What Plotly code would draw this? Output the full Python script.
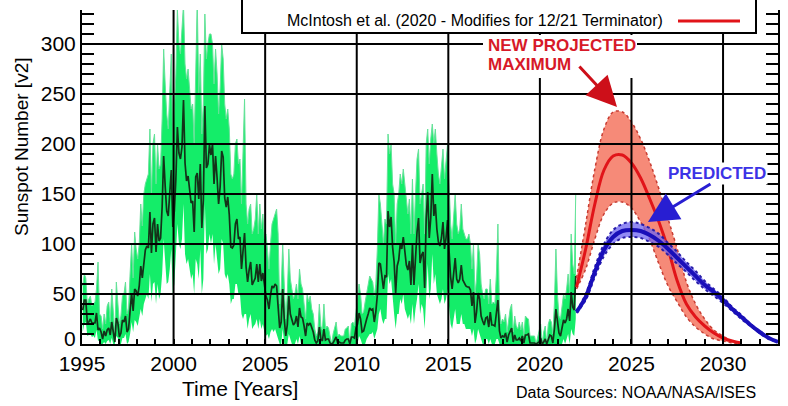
import plotly.graph_objects as go

# ---------------- figure geometry ----------------
W, H = 788, 406
ML, MR, MT, MB = 82, 10, 10, 62
PW, PH = W - ML - MR, H - MT - MB


def PX(x):
    return (x - ML) / PW


def PY(y):
    return (H - MB - y) / PH


# ---------------- data ----------------
start_year = 1995
x_ticks = [1995, 2000, 2005, 2010, 2015, 2020, 2025, 2030]
y_ticks = [0, 50, 100, 150, 200, 250, 300]

# monthly mean sunspot number (v2), Jan 1995 .. Dec 2021
monthly_mean = [
    34, 44, 44, 21, 22, 25, 21, 21, 21, 31, 14, 16,
    12, 5, 13, 8, 14, 16, 9, 22, 12, 2, 26, 21,
    7, 11, 24, 22, 28, 12, 15, 31, 51, 33, 55, 53,
    48, 58, 78, 66, 83, 94, 98, 96, 132, 91, 120, 126,
    92, 120, 103, 106, 137, 188, 158, 133, 128, 149, 174, 117,
    133, 165, 217, 191, 185, 197, 244, 181, 163, 168, 153, 141,
    143, 112, 167, 171, 145, 180, 116, 144, 238, 176, 180, 199,
    189, 200, 160, 188, 166, 140, 157, 193, 187, 146, 137, 147,
    129, 97, 96, 99, 120, 125, 105, 107, 75, 92, 111, 77,
    62, 74, 82, 59, 62, 66, 80, 62, 80, 63, 71, 59,
    48, 44, 35, 49, 58, 56, 60, 58, 40, 16, 22, 55,
    25, 8, 19, 48, 30, 25, 19, 21, 28, 17, 36, 27,
    26, 18, 8, 21, 19, 21, 16, 12, 4, 1, 3, 17,
    5, 3, 15, 4, 5, 5, 1, 0, 1, 5, 7, 1,
    2, 1, 1, 1, 4, 5, 5, 0, 7, 7, 6, 16,
    20, 31, 25, 12, 13, 20, 25, 30, 36, 34, 35, 22,
    32, 49, 81, 80, 66, 55, 68, 67, 133, 117, 127, 97,
    82, 51, 78, 84, 100, 95, 107, 92, 79, 74, 83, 59,
    99, 59, 86, 112, 126, 81, 89, 92, 56, 125, 152, 106,
    126, 170, 128, 140, 115, 102, 98, 106, 122, 95, 106, 124,
    93, 67, 55, 74, 86, 65, 61, 65, 79, 64, 61, 58,
    57, 57, 54, 38, 52, 21, 32, 51, 45, 28, 23, 19,
    26, 27, 17, 32, 19, 19, 18, 33, 44, 13, 6, 8,
    7, 11, 2, 9, 13, 16, 2, 9, 4, 4, 6, 3,
    8, 1, 9, 9, 10, 1, 1, 1, 1, 0, 1, 2,
    6, 0, 2, 5, 0, 6, 9, 8, 1, 15, 35, 23,
    11, 8, 17, 24, 21, 25, 35, 23, 52, 37, 34, 68,
]

# highest daily value in each month
daily_max = [
    58, 70, 66, 40, 45, 48, 38, 40, 42, 55, 82, 30,
    28, 15, 30, 20, 38, 42, 22, 55, 30, 10, 62, 45,
    20, 28, 48, 50, 62, 30, 36, 70, 100, 66, 112, 95,
    85, 100, 140, 118, 150, 160, 165, 170, 215, 150, 200, 210,
    160, 200, 175, 180, 225, 295, 260, 230, 215, 250, 290, 200,
    230, 270, 335, 300, 290, 310, 340, 280, 265, 275, 250, 235,
    240, 200, 270, 345, 250, 290, 210, 240, 330, 285, 300, 310,
    310, 300, 260, 295, 270, 230, 255, 300, 285, 240, 225, 235,
    215, 170, 165, 170, 200, 205, 180, 185, 140, 200, 245, 140,
    120, 135, 140, 110, 115, 125, 150, 110, 140, 115, 130, 105,
    110, 95, 75, 100, 120, 125, 130, 135, 110, 40, 55, 100,
    60, 25, 50, 95, 65, 55, 45, 50, 60, 45, 75, 60,
    55, 40, 25, 50, 42, 48, 35, 30, 15, 8, 12, 40,
    18, 14, 40, 15, 18, 16, 8, 0, 10, 18, 22, 8,
    10, 8, 8, 8, 15, 16, 18, 0, 20, 22, 18, 35,
    45, 60, 50, 30, 32, 42, 50, 58, 68, 65, 62, 48,
    60, 95, 150, 140, 120, 100, 125, 120, 210, 190, 200, 160,
    150, 100, 140, 150, 170, 160, 175, 160, 140, 130, 145, 110,
    165, 110, 150, 185, 195, 140, 150, 160, 110, 200, 215, 180,
    205, 220, 200, 215, 190, 170, 160, 180, 195, 165, 180, 200,
    160, 120, 105, 130, 150, 120, 110, 115, 140, 115, 110, 105,
    105, 110, 100, 75, 100, 50, 65, 100, 90, 60, 50, 45,
    55, 55, 40, 65, 40, 42, 40, 70, 120, 35, 20, 25,
    22, 30, 12, 25, 35, 40, 12, 28, 18, 15, 22, 14,
    22, 8, 28, 26, 25, 8, 8, 8, 8, 0, 8, 12,
    20, 0, 12, 18, 0, 20, 25, 22, 10, 40, 95, 50,
    28, 25, 40, 50, 45, 55, 70, 50, 110, 80, 70, 150,
]

# lowest daily value in each month
daily_min = [
    12, 20, 22, 8, 9, 10, 7, 8, 6, 14, 3, 4,
    0, 0, 2, 0, 3, 4, 0, 6, 0, 0, 8, 6,
    0, 0, 6, 6, 10, 0, 2, 10, 22, 12, 24, 22,
    18, 26, 35, 28, 40, 45, 50, 45, 70, 42, 60, 62,
    40, 60, 45, 50, 70, 105, 80, 60, 62, 75, 95, 50,
    60, 85, 120, 100, 95, 105, 140, 90, 80, 85, 75, 65,
    70, 50, 85, 80, 65, 95, 50, 65, 140, 90, 95, 110,
    100, 110, 80, 100, 85, 70, 75, 105, 100, 70, 65, 70,
    60, 40, 45, 45, 60, 60, 50, 50, 30, 25, 30, 30,
    15, 25, 30, 15, 18, 20, 25, 15, 25, 15, 20, 12,
    8, 10, 5, 12, 15, 12, 15, 10, 5, 0, 0, 15,
    0, 0, 0, 10, 5, 0, 0, 0, 5, 0, 8, 0,
    0, 0, 0, 0, 0, 0, 0, 0, 0, 0, 0, 0,
    0, 0, 0, 0, 0, 0, 0, 0, 0, 0, 0, 0,
    0, 0, 0, 0, 0, 0, 0, 0, 0, 0, 0, 0,
    0, 8, 5, 0, 0, 0, 5, 8, 10, 10, 12, 5,
    10, 15, 30, 35, 25, 20, 25, 25, 70, 60, 65, 45,
    30, 15, 30, 30, 45, 40, 50, 35, 30, 25, 30, 20,
    40, 20, 35, 45, 60, 30, 40, 35, 15, 55, 80, 45,
    55, 90, 60, 70, 50, 45, 40, 45, 55, 40, 45, 55,
    35, 20, 15, 25, 35, 20, 20, 20, 30, 20, 20, 15,
    15, 15, 15, 8, 15, 0, 5, 15, 10, 5, 0, 0,
    5, 5, 0, 5, 0, 0, 0, 5, 5, 0, 0, 0,
    0, 0, 0, 0, 0, 0, 0, 0, 0, 0, 0, 0,
    0, 0, 0, 0, 0, 0, 0, 0, 0, 0, 0, 0,
    0, 0, 0, 0, 0, 0, 0, 0, 0, 0, 0, 0,
    0, 0, 0, 5, 0, 5, 10, 0, 15, 10, 8, 25,
]

months = [start_year + (i + 0.5) / 12 for i in range(len(monthly_mean))]

# McIntosh et al. projection (red) with its range
red_years = [2022.0, 2022.5, 2023.0, 2023.5, 2024.0, 2024.5, 2025.0, 2025.5, 2026.0,
             2026.5, 2027.0, 2027.5, 2028.0, 2028.5, 2029.0, 2029.5, 2030.0, 2030.5, 2031.0]
red_mid = [57, 95, 140, 174, 188, 189, 181, 166, 145, 122, 95, 63, 40, 27, 18, 11, 6, 3, 1]
red_hi = [66, 120, 175, 215, 232, 232, 222, 205, 182, 155, 125, 95, 62, 40, 25, 14, 8, 3, 1]
red_lo = [55, 75, 105, 130, 141, 142, 136, 122, 104, 80, 58, 42, 27, 17, 10, 5, 3, 1, 0]

# NOAA/NASA panel prediction (blue) with its range
blue_years = [2022.0, 2022.5, 2023.0, 2023.5, 2024.0, 2024.5, 2025.0, 2025.5, 2026.0,
              2026.5, 2027.0, 2027.5, 2028.0, 2028.5, 2029.0, 2029.5, 2030.0, 2030.5,
              2031.0, 2031.5, 2032.0, 2032.5, 2033.0]
blue_mid = [32, 47, 72, 94, 107, 113, 114, 113, 109, 103, 95, 86, 77, 68, 59, 52, 44, 35, 27, 19, 12, 6, 2]
blue_hi = [33, 50, 77, 100, 114, 120, 122, 120, 116, 110, 101, 92, 82, 73, 63, 55, 47, 37, 29, 20, 13, 6, 2]
blue_lo = [31, 44, 67, 88, 100, 106, 107, 106, 102, 97, 89, 80, 72, 63, 55, 48, 41, 33, 25, 18, 11, 5, 2]

# ---------------- colours ----------------
GREEN_FILL = "rgba(0,236,92,0.92)"
GREEN_EDGE = "rgb(100,226,152)"
DARK = "rgb(20,50,25)"
RED = "rgb(225,20,25)"
RED_FILL = "rgba(245,125,105,0.9)"
RED_EDGE = "rgb(200,60,50)"
BLUE = "rgb(25,15,185)"
BLUE_FILL = "rgba(110,100,240,0.75)"
BLUE_EDGE = "rgb(40,30,170)"
FONT = "Liberation Sans, Arial, sans-serif"

fig = go.Figure()

# observed daily range
fig.add_trace(go.Scatter(x=months, y=daily_min, mode="lines",
                         line=dict(width=0, color=GREEN_EDGE), hoverinfo="skip"))
fig.add_trace(go.Scatter(x=months, y=daily_max, mode="lines", fill="tonexty",
                         fillcolor=GREEN_FILL, line=dict(width=1, color=GREEN_EDGE)))
# observed monthly mean
fig.add_trace(go.Scatter(x=months, y=monthly_mean, mode="lines",
                         line=dict(width=1.7, color=DARK)))

# red band
fig.add_trace(go.Scatter(x=red_years, y=red_lo, mode="lines", line_shape="spline",
                         line=dict(width=1.5, color=RED_EDGE, dash="dot")))
fig.add_trace(go.Scatter(x=red_years, y=red_hi, mode="lines", line_shape="spline",
                         fill="tonexty", fillcolor=RED_FILL,
                         line=dict(width=1.5, color=RED_EDGE, dash="dot")))
fig.add_trace(go.Scatter(x=red_years, y=red_mid, mode="lines", line_shape="spline",
                         line=dict(width=3, color=RED)))

# blue band
fig.add_trace(go.Scatter(x=blue_years, y=blue_lo, mode="lines", line_shape="spline",
                         line=dict(width=2, color=BLUE_EDGE, dash="dot")))
fig.add_trace(go.Scatter(x=blue_years, y=blue_hi, mode="lines", line_shape="spline",
                         fill="tonexty", fillcolor=BLUE_FILL,
                         line=dict(width=2, color=BLUE_EDGE, dash="dot")))
fig.add_trace(go.Scatter(x=blue_years, y=blue_mid, mode="lines", line_shape="spline",
                         line=dict(width=4, color=BLUE)))

# grid lines (drawn above the data, as in the original)
shapes = []
for xv in x_ticks[1:]:
    shapes.append(dict(type="line", xref="x", yref="paper", x0=xv, x1=xv, y0=0, y1=1,
                       line=dict(color="black", width=2), layer="above"))
for yv in y_ticks[1:]:
    shapes.append(dict(type="line", xref="paper", yref="y", x0=0, x1=1, y0=yv, y1=yv,
                       line=dict(color="black", width=2), layer="above"))

# legend box
shapes.append(dict(type="rect", xref="paper", yref="paper",
                   x0=PX(242), x1=PX(756), y0=PY(33), y1=PY(-3),
                   fillcolor="white", line=dict(color="black", width=2), layer="above"))
shapes.append(dict(type="line", xref="paper", yref="paper",
                   x0=PX(678), x1=PX(740), y0=PY(21), y1=PY(21),
                   line=dict(color=RED, width=3), layer="above"))
# white backing behind the "NEW PROJECTED MAXIMUM" label
shapes.append(dict(type="rect", xref="paper", yref="paper",
                   x0=PX(483), x1=PX(637), y0=PY(78), y1=PY(35),
                   fillcolor="white", line=dict(width=0), layer="above"))

# y tick labels: the bottom "0" sits a little higher, clear of "1995"
y_ticktext = [str(v) for v in y_ticks]
y_ticktext[0] = ""

annotations = [
    dict(text=str(y_ticks[0]), xref="paper", yref="paper", x=PX(78), y=PY(338),
         xanchor="right", yanchor="middle", showarrow=False,
         font=dict(family=FONT, size=21, color="black")),
    dict(text="McIntosh et al. (2020 - Modifies for 12/21 Terminator)",
         xref="paper", yref="paper", x=PX(475), y=PY(20), xanchor="center", yanchor="middle",
         showarrow=False, font=dict(family=FONT, size=16, color="black")),
    dict(text="<b>NEW PROJECTED</b>", xref="paper", yref="paper", x=PX(486), y=PY(45),
         xanchor="left", yanchor="middle", showarrow=False,
         font=dict(family=FONT, size=17, color="rgb(215,25,40)")),
    dict(text="<b>MAXIMUM</b>", xref="paper", yref="paper", x=PX(486), y=PY(64),
         xanchor="left", yanchor="middle", showarrow=False,
         font=dict(family=FONT, size=17, color="rgb(215,25,40)")),
    dict(text="", x=2024.21, y=237, xref="x", yref="y", ax=-39, ay=-42,
         showarrow=True, arrowhead=2, arrowsize=2, arrowwidth=3, arrowcolor="rgb(205,15,25)"),
    dict(text="<b>PREDICTED</b>", xref="paper", yref="paper", x=PX(666), y=PY(173),
         xanchor="left", yanchor="middle", showarrow=False, bgcolor="white",
         font=dict(family=FONT, size=17, color="rgb(60,50,230)")),
    dict(text="", x=2025.9, y=122, xref="x", yref="y", ax=64, ay=-39,
         showarrow=True, arrowhead=2, arrowsize=2, arrowwidth=3, arrowcolor="rgb(40,30,210)"),
    dict(text="Time [Years]", xref="paper", yref="paper", x=PX(240), y=PY(388),
         xanchor="center", yanchor="middle", showarrow=False,
         font=dict(family=FONT, size=21, color="black")),
    dict(text="Sunspot Number [v2]", xref="paper", yref="paper", x=PX(21), y=PY(147),
         xanchor="center", yanchor="middle", textangle=-90, showarrow=False,
         font=dict(family=FONT, size=19, color="black")),
    dict(text="Data Sources: NOAA/NASA/ISES", xref="paper", yref="paper", x=PX(636), y=PY(392),
         xanchor="center", yanchor="middle", showarrow=False,
         font=dict(family=FONT, size=16, color="black")),
]

fig.update_layout(
    width=W, height=H,
    margin=dict(l=ML, r=MR, t=MT, b=MB, pad=0),
    paper_bgcolor="white", plot_bgcolor="white",
    showlegend=False,
    shapes=shapes, annotations=annotations,
    font=dict(family=FONT, size=21, color="black"),
    xaxis=dict(range=[1995, 2033], tickmode="array", tickvals=x_ticks,
               ticktext=[str(v) for v in x_ticks], automargin=False,
               showgrid=False, zeroline=False, showline=True, linecolor="black", linewidth=2,
               ticks="inside", ticklen=0, layer="above traces",
               tickfont=dict(family=FONT, size=21, color="black"),
               minor=dict(tick0=1995, dtick=1, ticks="inside", ticklen=5, tickwidth=1.5,
                          tickcolor="black", showgrid=False)),
    yaxis=dict(range=[0, 334], tickmode="array", tickvals=y_ticks,
               ticktext=y_ticktext, automargin=False,
               showgrid=False, zeroline=False, showline=True, linecolor="black", linewidth=2,
               mirror="ticks", ticks="inside", ticklen=12, tickwidth=1.5, tickcolor="black",
               layer="above traces",
               tickfont=dict(family=FONT, size=21, color="black"),
               minor=dict(tick0=0, dtick=10, ticks="inside", ticklen=12, tickwidth=1.5,
                          tickcolor="black", showgrid=False)),
)

fig.write_html("out.html", config={"displayModeBar": False},
               post_script="document.body.style.margin='0px';")
